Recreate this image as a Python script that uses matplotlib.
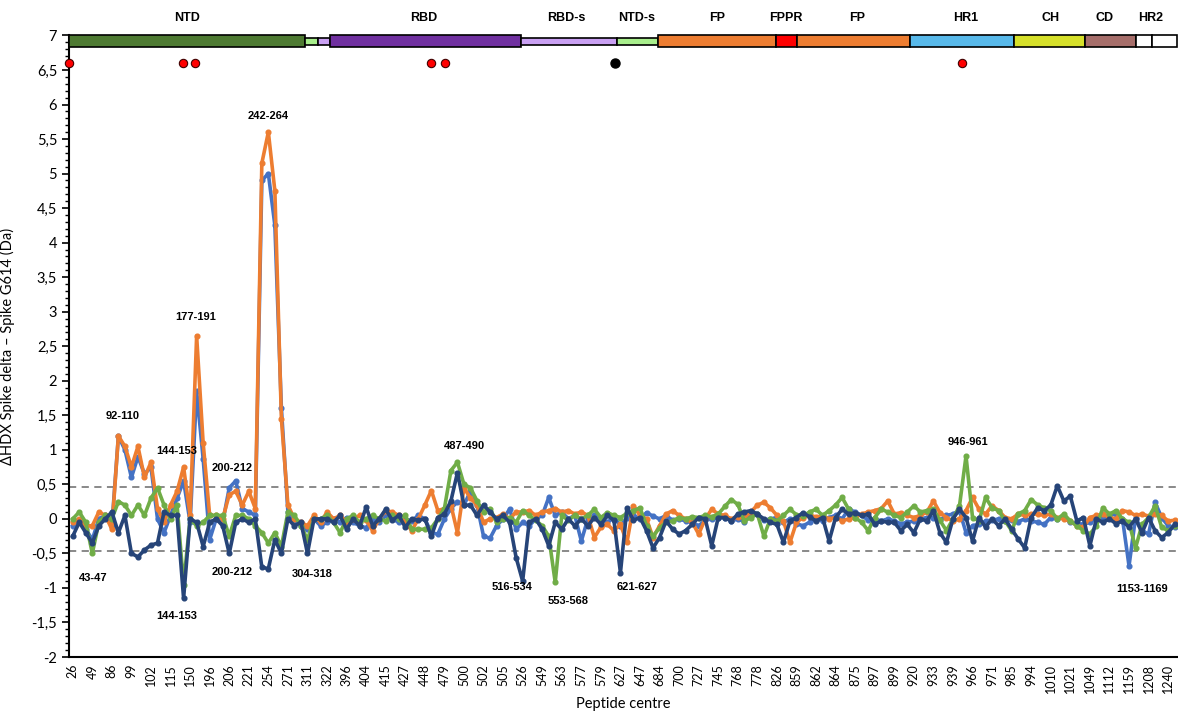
import numpy as np
import matplotlib
matplotlib.use("Agg")
import matplotlib.pyplot as plt
from matplotlib.patches import Rectangle
from matplotlib.ticker import MultipleLocator, FuncFormatter

# peptide centre labels shown on the category axis (every 3rd point)
tick_labels = [26, 49, 86, 99, 102, 115, 150, 196, 206, 221, 254, 271, 311, 322,
               396, 404, 415, 427, 448, 479, 500, 502, 505, 526, 549, 563, 577,
               579, 627, 647, 684, 700, 727, 745, 768, 778, 826, 859, 862, 864,
               875, 897, 899, 920, 933, 939, 966, 971, 985, 994, 1010, 1021,
               1049, 1112, 1159, 1208, 1240]

# deuterium uptake differences (Da)
orange = [-0.05, 0.0, -0.1, -0.1, 0.1, 0.05, -0.15, 1.2, 1.05, 0.75,
          1.05, 0.6, 0.82, 0.15, -0.05, 0.2, 0.4, 0.75, 0.05, 2.65,
          1.1, 0.05, 0.05, 0.0, 0.35, 0.4, 0.2, 0.4, 0.15, 5.15,
          5.6, 4.75, 1.45, 0.2, 0.0, -0.05, -0.1, 0.05, -0.05, 0.1,
          0.0, 0.05, -0.05, 0.0, 0.05, -0.02, -0.17, 0.0, 0.12, 0.1,
          0.05, -0.05, -0.17, 0.0, 0.2, 0.41, 0.12, 0.15, 0.2, -0.2,
          0.45, 0.3, 0.2, -0.05, 0.0, 0.02, 0.07, 0.0, 0.1, 0.1,
          0.12, 0.05, 0.1, 0.12, 0.15, 0.1, 0.12, 0.07, 0.1, 0.05,
          -0.27, -0.12, -0.08, -0.17, -0.08, -0.34, 0.19, 0.05, 0.0, -0.27,
          -0.1, 0.07, 0.12, 0.05, 0.0, -0.05, -0.22, 0.0, 0.14, 0.07,
          0.05, 0.0, 0.03, 0.02, 0.1, 0.2, 0.24, 0.16, 0.05, -0.03,
          -0.34, -0.05, 0.02, 0.05, 0.03, 0.04, 0.0, 0.02, -0.03, 0.0,
          0.02, 0.07, 0.1, 0.12, 0.15, 0.26, 0.07, 0.09, 0.05, 0.02,
          0.05, 0.1, 0.26, 0.09, 0.02, -0.03, 0.0, 0.12, 0.31, 0.14,
          0.07, 0.19, 0.12, 0.02, 0.0, 0.07, 0.05, 0.07, 0.07, 0.05,
          0.07, 0.02, 0.0, -0.03, -0.1, -0.12, 0.02, 0.05, 0.07, 0.02,
          0.0, 0.12, 0.1, 0.05, 0.07, 0.04, 0.07, 0.05, -0.03, -0.02]

blue = [-0.1, -0.05, -0.15, -0.3, 0.0, 0.05, -0.1, 1.2, 1.0, 0.6,
        0.9, 0.65, 0.75, 0.0, -0.2, 0.05, 0.3, 0.55, -0.05, 1.85,
        0.87, -0.3, 0.0, -0.05, 0.45, 0.55, 0.15, 0.1, 0.05, 4.9,
        5.0, 4.25, 1.6, 0.1, -0.05, -0.1, -0.15, 0.0, -0.1, -0.05,
        0.0, -0.05, 0.02, -0.05, -0.1, -0.13, 0.0, -0.05, 0.05, 0.0,
        -0.05, 0.0, -0.03, 0.05, 0.0, -0.2, -0.22, 0.0, 0.15, 0.25,
        0.2, 0.4, 0.2, -0.25, -0.28, -0.1, 0.0, 0.14, -0.15, -0.05,
        -0.1, 0.0, 0.05, 0.31, 0.05, 0.1, 0.0, 0.05, -0.32, 0.0,
        0.05, 0.0, -0.05, 0.02, -0.1, 0.02, 0.05, 0.0, 0.09, 0.04,
        0.0, 0.05, -0.02, 0.0, -0.03, -0.05, -0.1, -0.02, 0.0, 0.02,
        0.02, -0.03, 0.0, -0.04, 0.05, 0.07, -0.02, 0.0, 0.02, -0.05,
        0.0, -0.07, -0.1, -0.05, 0.0, -0.03, 0.02, 0.05, 0.0, 0.14,
        0.1, 0.05, -0.02, 0.0, -0.03, 0.0, -0.03, -0.07, -0.05, -0.03,
        0.0, 0.02, 0.02, -0.02, 0.05, 0.07, 0.12, -0.2, -0.1, -0.08,
        -0.03, -0.02, 0.0, -0.03, -0.02, -0.04, 0.0, -0.03, -0.05, -0.08,
        0.02, 0.0, 0.02, -0.05, -0.07, -0.08, -0.05, 0.0, 0.02, 0.05,
        0.07, 0.0, -0.68, 0.02, -0.17, -0.22, 0.24, 0.02, -0.1, -0.12]

green = [0.0, 0.1, -0.05, -0.5, -0.05, 0.05, 0.0, 0.25, 0.2, 0.05,
         0.2, 0.05, 0.3, 0.45, 0.2, 0.0, 0.2, -0.95, 0.0, -0.1,
         -0.05, 0.05, 0.05, 0.05, -0.25, 0.05, 0.05, 0.0, -0.1, -0.2,
         -0.35, -0.2, -0.4, 0.1, 0.05, -0.1, -0.3, 0.0, 0.0, 0.05,
         -0.05, -0.2, 0.0, 0.05, -0.05, 0.0, 0.05, 0.0, -0.03, 0.05,
         0.0, 0.05, -0.15, -0.15, -0.15, -0.13, 0.0, 0.15, 0.7, 0.82,
         0.5, 0.45, 0.26, 0.1, 0.15, -0.05, 0.0, 0.02, -0.05, 0.12,
         0.05, -0.02, -0.1, -0.25, -0.92, 0.05, -0.02, 0.05, 0.0, 0.05,
         0.14, 0.02, 0.09, 0.05, 0.02, 0.08, 0.12, 0.16, -0.1, -0.25,
         -0.13, -0.05, -0.03, 0.02, 0.0, 0.03, 0.02, 0.05, 0.03, 0.07,
         0.18, 0.28, 0.21, -0.03, 0.02, 0.07, -0.25, 0.0, -0.03, 0.05,
         0.14, 0.06, 0.04, 0.1, 0.14, 0.05, 0.12, 0.2, 0.31, 0.14,
         0.02, -0.05, -0.17, 0.02, 0.14, 0.1, 0.05, 0.02, 0.1, 0.19,
         0.1, 0.12, 0.14, -0.02, -0.17, 0.0, 0.19, 0.91, 0.02, -0.03,
         0.31, 0.16, 0.12, -0.03, -0.17, 0.07, 0.12, 0.28, 0.2, 0.16,
         0.12, 0.0, 0.07, -0.03, -0.1, -0.17, -0.22, -0.1, 0.16, 0.07,
         0.12, 0.0, -0.05, -0.42, -0.08, 0.02, 0.19, -0.12, -0.17, -0.1]

navy = [-0.25, -0.05, -0.2, -0.35, -0.1, 0.0, 0.1, -0.2, 0.05, -0.5,
        -0.55, -0.45, -0.38, -0.35, 0.1, 0.05, 0.05, -1.15, 0.0, -0.05,
        -0.4, -0.05, 0.0, -0.1, -0.5, -0.05, 0.0, -0.05, 0.0, -0.7,
        -0.72, -0.3, -0.5, 0.0, -0.1, -0.05, -0.5, 0.0, 0.0, 0.0,
        -0.05, 0.05, -0.15, 0.0, -0.1, 0.17, -0.1, 0.0, 0.14, -0.02,
        0.05, -0.12, 0.0, -0.02, 0.0, -0.25, 0.02, 0.07, 0.26, 0.67,
        0.2, 0.2, 0.05, 0.2, 0.1, 0.0, 0.05, -0.05, -0.56, -0.9,
        -0.05, 0.0, -0.15, -0.39, -0.05, -0.15, 0.0, -0.1, 0.0, -0.1,
        0.02, -0.08, 0.05, -0.02, -0.78, 0.16, -0.02, 0.02, -0.17, -0.42,
        -0.27, -0.03, -0.15, -0.22, -0.17, -0.08, 0.02, 0.0, -0.39, 0.02,
        0.02, -0.03, 0.07, 0.1, 0.12, 0.07, 0.0, -0.05, -0.08, -0.34,
        -0.03, 0.02, 0.09, 0.03, -0.03, 0.02, -0.32, 0.02, 0.14, 0.07,
        0.09, 0.05, 0.07, -0.08, -0.03, -0.05, -0.05, -0.17, -0.08, -0.2,
        0.0, -0.03, 0.12, -0.2, -0.34, 0.0, 0.14, 0.02, -0.32, 0.02,
        -0.12, 0.0, -0.1, 0.0, -0.15, -0.29, -0.42, 0.02, 0.16, 0.12,
        0.2, 0.48, 0.26, 0.33, -0.03, 0.02, -0.39, 0.0, -0.05, 0.0,
        -0.07, -0.03, -0.12, 0.0, -0.2, 0.02, -0.17, -0.27, -0.2, -0.08]

# domain map along the top (start, end in point index units)
domains = [("NTD", -0.57, 35.6, "#4e7a32", False),
           ("", 35.6, 37.6, "#a8ee8c", True),
           ("", 37.6, 39.4, "#c9a0f2", True),
           ("RBD", 39.4, 68.7, "#7030a0", False),
           ("RBD-s", 68.7, 83.4, "#c9a0f2", True),
           ("NTD-s", 83.4, 89.8, "#a8ee8c", True),
           ("FP", 89.8, 107.9, "#ed7d31", False),
           ("FPPR", 107.9, 111.1, "#ff0000", False),
           ("FP", 111.1, 128.4, "#ed7d31", False),
           ("HR1", 128.4, 144.4, "#58b9ea", False),
           ("CH", 144.4, 155.3, "#d6e02a", False),
           ("CD", 155.3, 163.1, "#a66e6a", False),
           ("", 163.1, 165.5, "#ffffff", False),
           ("", 165.5, 169.3, "#ffffff", False)]
domain_label_x = {"NTD": 17.5, "RBD": 53.8, "RBD-s": 75.7, "NTD-s": 86.5,
                  "FPPR": 109.4, "HR1": 137.0, "CH": 149.9, "CD": 158.3}
fp_label_x = [98.9, 120.3]
hr2_label_x = 165.3

red_dots = [-0.6, 16.9, 18.75, 54.9, 57.05, 136.4]
black_dots = [83.2]

annotations = [("92-110", 7.6, 1.49), ("144-153", 16.0, 0.99), ("177-191", 18.9, 2.92),
               ("242-264", 29.9, 5.83), ("200-212", 24.4, 0.73), ("43-47", 3.1, -0.85),
               ("144-153", 16.0, -1.40), ("200-212", 24.4, -0.77), ("304-318", 36.8, -0.80),
               ("487-490", 60.0, 1.05), ("516-534", 67.3, -0.99), ("553-568", 75.9, -1.19),
               ("621-627", 86.6, -0.99), ("946-961", 137.3, 1.12), ("1153-1169", 164.0, -1.01)]

x = np.arange(len(orange))

fig = plt.figure(figsize=(11.78, 7.19), dpi=100)
ax = fig.add_axes([0.0586, 0.0862, 0.9405, 0.8645])

for ys, col, z in [(blue, "#4472c4", 3), (orange, "#ed7d31", 4),
                   (green, "#70ad47", 5), (navy, "#264478", 6)]:
    ax.plot(x, ys, color=col, lw=2.6, marker="o", ms=3.4, zorder=z)

ax.axhline(0.46, color="#808080", ls=(0, (4, 3)), lw=1.3, zorder=2)
ax.axhline(-0.46, color="#808080", ls=(0, (4, 3)), lw=1.3, zorder=2)

ax.set_xlim(-0.57, 169.35)
ax.set_ylim(-2, 7)

# domain bar
for name, a, b, col, thin in domains:
    y0, h = (6.86, 0.11) if thin else (6.83, 0.17)
    ax.add_patch(Rectangle((a, y0), b - a, h, facecolor=col, edgecolor="black",
                           lw=1.2, clip_on=False, zorder=7))
bold = dict(family="Liberation Sans", fontweight="bold", ha="center", va="center")
for name, xx in domain_label_x.items():
    ax.text(xx, 7.25, name, fontsize=9, clip_on=False, **bold)
for xx in fp_label_x:
    ax.text(xx, 7.25, "FP", fontsize=9, clip_on=False, **bold)
ax.text(hr2_label_x, 7.25, "HR2", fontsize=9, clip_on=False, **bold)

ax.plot(red_dots, [6.6] * len(red_dots), "o", color="#ff0000", mec="#400000",
        mew=0.8, ms=6, clip_on=False, zorder=8)
ax.plot(black_dots, [6.6] * len(black_dots), "o", color="black", ms=6.5,
        clip_on=False, zorder=8)

for txt, xx, yy in annotations:
    ax.text(xx, yy, txt, fontsize=8, zorder=9, **bold)

ax.set_xticks(np.arange(0, len(orange), 3))
ax.set_xticklabels([str(t) for t in tick_labels], rotation=90, fontsize=9,
                   family="Lato")
ax.tick_params(axis="x", length=0, pad=5)

ax.yaxis.set_major_locator(MultipleLocator(0.5))
ax.yaxis.set_minor_locator(MultipleLocator(0.1))
ax.yaxis.set_major_formatter(FuncFormatter(lambda v, p: f"{v:g}".replace(".", ",")))
ax.tick_params(axis="y", which="major", length=5, width=1.2, labelsize=10.5)
ax.tick_params(axis="y", which="minor", length=3, width=1.0)
for lab in ax.get_yticklabels():
    lab.set_family("Lato")

for s in ["top", "right"]:
    ax.spines[s].set_visible(False)
ax.spines["left"].set_linewidth(1.5)
ax.spines["bottom"].set_linewidth(1.5)

ax.set_ylabel("ΔHDX Spike delta – Spike G614 (Da)", fontsize=10.5, family="Lato",
              labelpad=12)
ax.set_xlabel("Peptide centre", fontsize=10.5, family="Lato", labelpad=3)

fig.savefig("out.png", dpi=100)
